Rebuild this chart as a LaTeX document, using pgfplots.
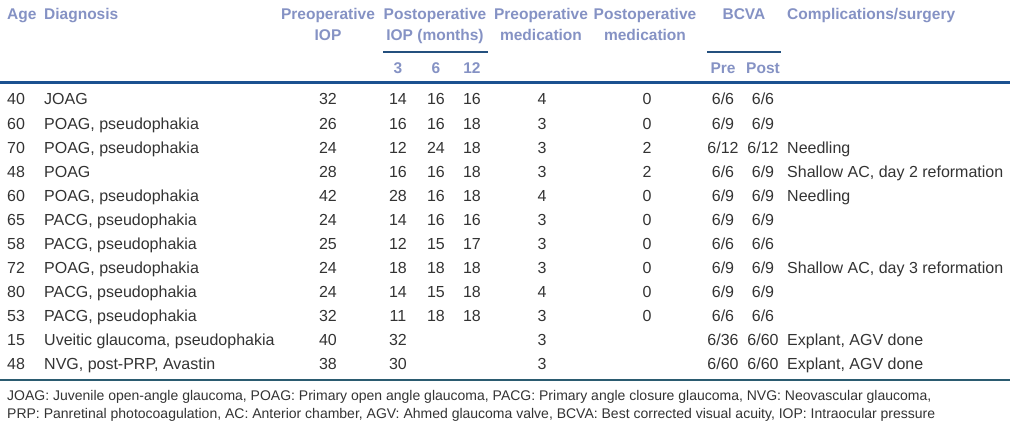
\documentclass[border=0pt]{standalone}
\usepackage{fontspec}
\setmainfont{Liberation Sans}
\usepackage{pgfplots}
\usepackage{pgfplotstable}
\pgfplotsset{compat=1.18}
\definecolor{head}{HTML}{8592C4}
\definecolor{body}{HTML}{333333}
\definecolor{rulebl}{HTML}{1B5190}
\definecolor{subrule}{HTML}{24507E}
\definecolor{botrule}{HTML}{2B5B70}
\tikzset{hd/.style={text=head, inner sep=0pt, font=\fontsize{15.5bp}{19bp}\selectfont\bfseries},
  fn/.style={anchor=base west, inner sep=0pt, text=body, font=\fontsize{14bp}{17bp}\selectfont}}

% y = text baseline, in pixels from the top
\pgfplotstableread[col sep=semicolon]{
age;diag;pre;pa;pb;pc;premed;postmed;bpre;bpost;comp;y
40;JOAG;32;14;16;16;4;0;6/6;6/6;;105
60;POAG, pseudophakia;26;16;16;18;3;0;6/9;6/9;;129
70;POAG, pseudophakia;24;12;24;18;3;2;6/12;6/12;Needling;153
48;POAG;28;16;16;18;3;2;6/6;6/9;Shallow AC, day 2 reformation;177
60;POAG, pseudophakia;42;28;16;18;4;0;6/9;6/9;Needling;201
65;PACG, pseudophakia;24;14;16;16;3;0;6/9;6/9;;225
58;PACG, pseudophakia;25;12;15;17;3;0;6/6;6/6;;249
72;POAG, pseudophakia;24;18;18;18;3;0;6/9;6/9;Shallow AC, day 3 reformation;273
80;PACG, pseudophakia;24;14;15;18;4;0;6/9;6/9;;297
53;PACG, pseudophakia;32;11;18;18;3;0;6/6;6/6;;321
15;Uveitic glaucoma, pseudophakia;40;32;;;3;;6/36;6/60;Explant, AGV done;345
48;NVG, post-PRP, Avastin;38;30;;;3;;6/60;6/60;Explant, AGV done;369
}\rows

\begin{document}
\begin{tikzpicture}
\path[use as bounding box] (0,0) rectangle (1010bp,421bp);
\begin{axis}[
  at={(0,0)}, anchor=south west,
  scale only axis, width=1010bp, height=421bp,
  xmin=0, xmax=1010, ymin=0, ymax=421, y dir=reverse,
  hide axis, clip=false,
  col/.style={only marks, mark=none, nodes near coords, point meta=explicit symbolic,
    nodes near coords align={anchor=base},
    every node near coord/.append style={inner sep=0pt, text=body,
      font=\fontsize{16bp}{19bp}\selectfont}},
  lcol/.style={col, nodes near coords align={anchor=base west}},
]
\addplot[lcol] table[x expr=7, y=y, meta=age] {\rows};
\addplot[lcol] table[x expr=44, y=y, meta=diag] {\rows};
\addplot[col] table[x expr=328, y=y, meta=pre] {\rows};
\addplot[col] table[x expr=398, y=y, meta=pa] {\rows};
\addplot[col] table[x expr=436, y=y, meta=pb] {\rows};
\addplot[col] table[x expr=472, y=y, meta=pc] {\rows};
\addplot[col] table[x expr=542, y=y, meta=premed] {\rows};
\addplot[col] table[x expr=647, y=y, meta=postmed] {\rows};
\addplot[col] table[x expr=723, y=y, meta=bpre] {\rows};
\addplot[col] table[x expr=763, y=y, meta=bpost] {\rows};
\addplot[lcol] table[x expr=787, y=y, meta=comp] {\rows};

% header
\node[hd, anchor=base west] at (axis cs:7,20) {Age};
\node[hd, anchor=base west] at (axis cs:44,20) {Diagnosis};
\node[hd, anchor=base] at (axis cs:328,20) {Preoperative};
\node[hd, anchor=base] at (axis cs:328,41) {IOP};
\node[hd, anchor=base] at (axis cs:435,20) {Postoperative};
\node[hd, anchor=base] at (axis cs:435,41) {IOP (months)};
\node[hd, anchor=base] at (axis cs:541,20) {Preoperative};
\node[hd, anchor=base] at (axis cs:541,41) {medication};
\node[hd, anchor=base] at (axis cs:645,20) {Postoperative};
\node[hd, anchor=base] at (axis cs:645,41) {medication};
\node[hd, anchor=base] at (axis cs:744,20) {BCVA};
\node[hd, anchor=base west] at (axis cs:787,20) {Complications/surgery};
\node[hd, anchor=base] at (axis cs:398,74) {3};
\node[hd, anchor=base] at (axis cs:436,74) {6};
\node[hd, anchor=base] at (axis cs:472,74) {12};
\node[hd, anchor=base] at (axis cs:723,74) {Pre};
\node[hd, anchor=base] at (axis cs:763,74) {Post};
\draw[subrule, line width=1.2bp] (axis cs:383,52) -- (axis cs:488,52);
\draw[subrule, line width=1.2bp] (axis cs:707,52) -- (axis cs:781,52);
\draw[rulebl, line width=3bp] (axis cs:0,83) -- (axis cs:1010,83);
\draw[botrule, line width=1.2bp] (axis cs:0,380) -- (axis cs:1010,380);

% footnote
\node[fn] at (axis cs:7,400) {JOAG: Juvenile open-angle glaucoma, POAG: Primary open angle glaucoma, PACG: Primary angle closure glaucoma, NVG: Neovascular glaucoma,};
\node[fn] at (axis cs:7,418) {PRP: Panretinal photocoagulation, AC: Anterior chamber, AGV: Ahmed glaucoma valve, BCVA: Best corrected visual acuity, IOP: Intraocular pressure};
\end{axis}
\end{tikzpicture}
\end{document}
